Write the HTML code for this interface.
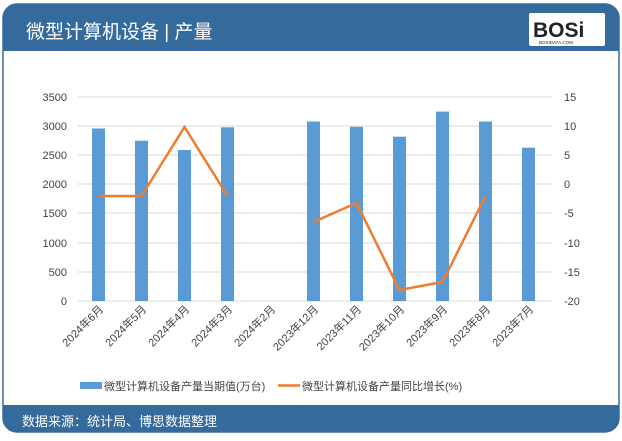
<!DOCTYPE html>
<html><head><meta charset="utf-8"><style>
body{margin:0;background:#fff;width:622px;height:436px;overflow:hidden;font-family:"Liberation Sans","Noto Sans CJK SC",sans-serif}
</style></head><body>
<svg width="622" height="436" xmlns="http://www.w3.org/2000/svg" font-family="Liberation Sans, Noto Sans CJK SC, sans-serif">
<rect x="3" y="4" width="616" height="428" rx="14" fill="#fff" stroke="#3a6a9b" stroke-width="1.5"/>
<path d="M3 18 a14 14 0 0 1 14 -14 h588 a14 14 0 0 1 14 14 v33 h-616z" fill="#356a9c"/>
<path d="M3 405 h616 v13 a14 14 0 0 1 -14 14 h-588 a14 14 0 0 1 -14 -14z" fill="#356a9c"/>
<text x="26" y="38" font-size="19" fill="#fff">微型计算机设备 | 产量</text>
<rect x="529" y="13" width="76" height="33" rx="2" fill="#fff"/>
<text x="533" y="37" font-size="21" font-weight="bold" fill="#222">BOSi</text>
<text x="539" y="44" font-size="4.5" fill="#222">BOSIDATA.COM</text>
<text x="22" y="426" font-size="13" fill="#fff">数据来源：统计局、博思数据整理</text>
<g stroke="#d9d9d9" stroke-width="1">
<line x1="78" y1="97" x2="552" y2="97"/><line x1="78" y1="126" x2="552" y2="126"/><line x1="78" y1="155" x2="552" y2="155"/><line x1="78" y1="184" x2="552" y2="184"/><line x1="78" y1="213" x2="552" y2="213"/><line x1="78" y1="243" x2="552" y2="243"/><line x1="78" y1="272" x2="552" y2="272"/><line x1="78" y1="301" x2="552" y2="301"/>
</g>
<g font-size="11" fill="#444" text-anchor="end">
<text x="67" y="101">3500</text><text x="67" y="130">3000</text><text x="67" y="159">2500</text><text x="67" y="188">2000</text><text x="67" y="217">1500</text><text x="67" y="247">1000</text><text x="67" y="276">500</text><text x="67" y="305">0</text>
</g>
<g font-size="11" fill="#444">
<text x="564" y="101">15</text><text x="564" y="130">10</text><text x="564" y="159">5</text><text x="564" y="188">0</text><text x="564" y="217">-5</text><text x="564" y="247">-10</text><text x="564" y="276">-15</text><text x="564" y="305">-20</text>
</g>
<g fill="#5b9bd5">
<rect x="92" y="128.5" width="13" height="172.5"/>
<rect x="135" y="140.7" width="13" height="160.3"/>
<rect x="178" y="150" width="13" height="151"/>
<rect x="221" y="127.3" width="13" height="173.7"/>
<rect x="307" y="121.5" width="13" height="179.5"/>
<rect x="350" y="126.8" width="13" height="174.2"/>
<rect x="393" y="136.7" width="13" height="164.3"/>
<rect x="436" y="111.6" width="13" height="189.4"/>
<rect x="479" y="121.5" width="13" height="179.5"/>
<rect x="522" y="147.7" width="13" height="153.3"/>
</g>
<polyline fill="none" stroke="#ed7d31" stroke-width="2.5" points="98.5,196 141.5,196 184.5,127 227.5,196"/>
<polyline fill="none" stroke="#ed7d31" stroke-width="2.5" points="313.5,222 356.5,203 399.5,290 442.5,282 485.5,196"/>
<g font-size="11" fill="#444" text-anchor="end">
<text transform="translate(104,310) rotate(-45)">2024年6月</text>
<text transform="translate(147,310) rotate(-45)">2024年5月</text>
<text transform="translate(190,310) rotate(-45)">2024年4月</text>
<text transform="translate(233,310) rotate(-45)">2024年3月</text>
<text transform="translate(276,310) rotate(-45)">2024年2月</text>
<text transform="translate(319,310) rotate(-45)">2023年12月</text>
<text transform="translate(362,310) rotate(-45)">2023年11月</text>
<text transform="translate(405,310) rotate(-45)">2023年10月</text>
<text transform="translate(448,310) rotate(-45)">2023年9月</text>
<text transform="translate(491,310) rotate(-45)">2023年8月</text>
<text transform="translate(534,310) rotate(-45)">2023年7月</text>
</g>
<rect x="80" y="382" width="22" height="7" fill="#5b9bd5"/>
<text x="104" y="390" font-size="11" fill="#444">微型计算机设备产量当期值(万台)</text>
<line x1="278" y1="385.5" x2="300" y2="385.5" stroke="#ed7d31" stroke-width="2.5"/>
<text x="302" y="390" font-size="11" fill="#444">微型计算机设备产量同比增长(%)</text>
</svg>
</body></html>
